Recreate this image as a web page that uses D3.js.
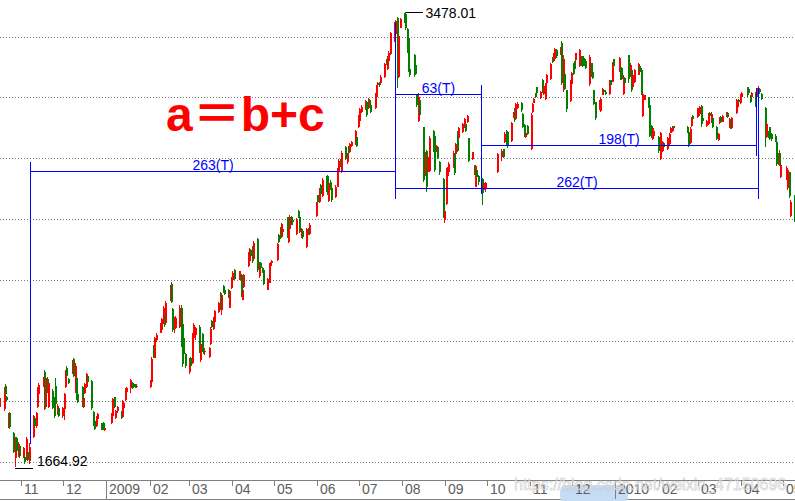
<!DOCTYPE html>
<html><head><meta charset="utf-8">
<script src="https://cdn.jsdelivr.net/npm/d3@7"></script>
<style>html,body{margin:0;padding:0;background:#fff;overflow:hidden}svg{display:block}</style>
</head><body><svg id="c" width="795" height="501"></svg>
<script>
// ---- daily K-line data: [day, open, high, low, close] ----
const k2008_10=[[16,1960,1975,1925,1935],[17,1905,1950,1895,1940],[20,1895,1985,1890,1960],[21,1990,1995,1950,1955],[22,1945,1948,1930,1933],[23,1828,1882,1822,1875],[24,1880,1886,1818,1825],[27,1800,1805,1720,1724],[28,1700,1785,1664.92,1772],[29,1782,1786,1722,1730],[30,1712,1765,1705,1758],[31,1750,1755,1700,1710]];
const k2008_11=[[3,1708,1745,1702,1740],[4,1705,1708,1680,1685],[5,1700,1785,1695,1778],[6,1725,1728,1690,1695],[7,1690,1760,1680,1745],[10,1785,1875,1780,1868],[11,1860,1870,1822,1830],[12,1828,1885,1820,1880],[13,1905,1985,1900,1978],[14,1955,2000,1950,1992],[17,1990,2025,1985,2020],[18,2045,2052,1893,1905],[19,1905,2030,1895,2020],[20,2015,2025,1960,1970],[21,1905,2011,1900,2000],[24,1970,1975,1895,1900],[25,1935,1945,1860,1870],[26,1990,2020,1905,1915],[27,1880,1915,1875,1910],[28,1900,1905,1865,1871]];
const k2008_12=[[1,1868,1906,1862,1902],[2,1895,1962,1852,1955],[3,1985,2052,1980,2045],[4,2060,2070,2020,2030],[5,2015,2022,1995,2000],[8,2040,2092,2035,2085],[9,2095,2100,2025,2030],[10,1965,2080,1962,2070],[11,2022,2025,1932,1940],[12,1955,1960,1920,1925],[15,1985,1990,1905,1912],[16,1905,1945,1900,1940],[17,1962,2000,1958,1995],[18,1985,2040,1982,2035],[19,2030,2035,2000,2006],[22,2010,2012,1892,1900],[23,1885,1888,1830,1840],[24,1850,1858,1812,1818],[25,1830,1870,1825,1866],[26,1858,1880,1850,1877],[29,1840,1842,1812,1815],[30,1842,1845,1812,1820],[31,1812,1830,1808,1822]];
const k2009_01=[[5,1840,1882,1838,1878],[6,1868,1942,1864,1938],[7,1944,1946,1900,1905],[8,1862,1892,1858,1888],[9,1890,1908,1880,1904],[12,1884,1888,1858,1862],[13,1865,1932,1862,1928],[14,1900,1926,1898,1922],[15,1932,1982,1930,1978],[16,1965,1986,1962,1982],[19,1980,2018,1962,2012],[20,2000,2003,1976,1980],[21,1998,2000,1980,1985],[22,1996,1998,1982,1987],[23,1985,1995,1980,1990]];
const k2009_02=[[2,1985,2012,1982,2008],[3,2005,2103,2002,2095],[4,2140,2150,2100,2105],[5,2100,2185,2098,2180],[6,2170,2198,2165,2192],[9,2205,2240,2199,2235],[10,2210,2260,2200,2255],[11,2240,2305,2235,2300],[12,2275,2280,2225,2230],[13,2240,2325,2235,2320],[16,2330,2390,2325,2385],[17,2395,2402,2318,2322],[18,2295,2298,2205,2210],[19,2215,2262,2200,2255],[20,2220,2266,2215,2260],[23,2222,2310,2218,2300],[24,2300,2310,2145,2150],[25,2235,2240,2063,2075],[26,2180,2195,2110,2115],[27,2115,2120,2062,2068]];
const k2009_03=[[2,2045,2100,2038,2095],[3,2098,2102,2062,2070],[4,2080,2200,2076,2190],[5,2180,2240,2172,2232],[6,2190,2225,2172,2218],[9,2225,2232,2120,2130],[10,2090,2160,2083,2155],[11,2195,2200,2125,2135],[12,2140,2145,2115,2120],[13,2122,2140,2110,2128],[16,2105,2145,2100,2140],[17,2155,2222,2150,2215],[18,2248,2252,2220,2225],[19,2215,2262,2210,2255],[20,2245,2290,2242,2285],[23,2282,2322,2278,2318],[24,2355,2362,2292,2298],[25,2290,2360,2272,2352],[26,2385,2390,2360,2362],[27,2370,2380,2350,2355],[30,2370,2375,2340,2345],[31,2300,2372,2298,2365]];
const k2009_04=[[1,2380,2422,2375,2418],[2,2410,2446,2405,2440],[3,2452,2455,2412,2415],[7,2412,2448,2410,2445],[8,2432,2435,2342,2350],[9,2332,2378,2330,2372],[10,2382,2435,2378,2430],[13,2465,2522,2462,2515],[14,2485,2538,2482,2532],[15,2530,2535,2500,2505],[16,2540,2545,2478,2485],[17,2495,2565,2490,2558],[20,2575,2579,2442,2450],[21,2425,2480,2420,2472],[22,2478,2480,2455,2458],[23,2460,2462,2440,2445],[24,2450,2452,2390,2395],[27,2372,2418,2370,2415],[28,2400,2478,2398,2470],[29,2465,2480,2455,2475],[30,2478,2490,2470,2485]];
const k2009_05=[[4,2490,2557,2486,2552],[5,2588,2592,2557,2562],[6,2620,2622,2575,2580],[7,2580,2638,2576,2632],[8,2600,2625,2590,2615],[11,2660,2662,2578,2585],[12,2560,2618,2557,2612],[13,2612,2668,2609,2662],[14,2660,2663,2630,2635],[15,2650,2655,2630,2640],[18,2592,2656,2589,2650],[19,2685,2688,2657,2660],[20,2660,2662,2597,2603],[21,2580,2617,2577,2612],[22,2605,2610,2575,2580],[25,2540,2617,2537,2612],[26,2615,2618,2590,2592],[27,2592,2636,2589,2630]];
const k2009_06=[[1,2665,2722,2660,2715],[2,2747,2750,2718,2722],[3,2722,2778,2718,2772],[4,2789,2792,2749,2752],[5,2745,2815,2740,2810],[8,2822,2825,2760,2765],[9,2825,2830,2750,2755],[10,2725,2800,2720,2795],[11,2800,2808,2770,2775],[12,2775,2778,2722,2728],[15,2740,2790,2735,2782],[16,2782,2856,2780,2850],[17,2842,2890,2838,2885],[18,2885,2892,2860,2870],[19,2842,2922,2838,2915],[22,2938,2942,2888,2892],[23,2880,2915,2872,2910],[24,2940,2945,2908,2915],[25,2918,2956,2915,2950],[26,2945,2965,2940,2960],[29,2952,3008,2948,3002],[30,2978,2981,2940,2945]];
const k2009_07=[[1,3020,3068,3015,3062],[2,3042,3095,3039,3090],[3,3080,3105,3075,3100],[6,3090,3128,3087,3122],[7,3118,3120,3059,3065],[8,3095,3133,3090,3128],[9,3125,3130,3098,3100],[10,3107,3110,3075,3080],[13,3095,3155,3090,3150],[14,3138,3187,3135,3182],[15,3185,3200,3175,3195],[16,3198,3200,3180,3185],[17,3195,3225,3190,3220],[20,3220,3275,3215,3270],[21,3285,3290,3265,3268],[22,3250,3300,3247,3295],[23,3282,3320,3279,3315],[24,3310,3399,3307,3395],[27,3362,3436,3359,3435],[28,3390,3446,3386,3440],[29,3452,3455,3175,3265],[30,3220,3406,3215,3380],[31,3415,3454,3412,3450]];
const k2009_08=[[3,3465,3472,3435,3440],[4,3470,3478.01,3406,3412],[5,3410,3415,3315,3320],[6,3375,3378,3240,3250],[7,3250,3260,3220,3225],[10,3305,3308,3219,3225],[11,3265,3268,3228,3232],[12,3145,3148,3099,3105],[13,3045,3155,3040,3140],[14,3125,3128,3059,3065],[17,3018,3020,2800,2810],[18,2830,2920,2825,2912],[19,2925,2928,2761,2780],[20,2840,2908,2836,2900],[21,2845,2982,2840,2975],[24,3002,3006,2920,2925],[25,2985,2990,2840,2850],[26,2925,2948,2918,2942],[27,2940,2945,2890,2895],[28,2880,2885,2830,2840],[31,2812,2816,2657,2667]];
const k2009_09=[[1,2650,2721,2639,2683],[2,2712,2856,2709,2845],[3,2825,2860,2816,2855],[4,2842,2880,2838,2872],[7,2858,2922,2855,2915],[8,2912,2916,2828,2835],[9,2910,2956,2905,2950],[10,2998,3002,2920,2925],[11,2976,3020,2972,3015],[14,2998,3036,2996,3032],[15,3018,3056,3016,3052],[16,3030,3034,3000,3005],[17,3038,3068,3036,3063],[18,2975,2976,2880,2885],[21,2890,2920,2888,2918],[22,2866,2868,2828,2832],[23,2782,2868,2780,2865],[24,2850,2855,2810,2820],[25,2825,2830,2790,2800],[28,2812,2816,2709,2756],[29,2770,2797,2765,2795],[30,2775,2800,2760,2798]];
const k2009_10=[[9,2840,2916,2836,2911],[12,2900,2932,2884,2925],[13,2930,2932,2895,2900],[14,2960,2998,2955,2992],[15,3004,3006,2948,2955],[16,2998,3000,2936,2942],[19,2962,3040,2958,3035],[20,3058,3080,3055,3076],[21,3088,3096,3040,3048],[22,3052,3116,3050,3110],[23,3095,3118,3090,3112],[26,3116,3118,3080,3085],[27,3072,3076,3016,3020],[28,3028,3030,2980,2985],[29,2978,2998,2976,2994],[30,3024,3028,2988,2992]];
const k2009_11=[[2,2930,3076,2928,3065],[3,3080,3116,3076,3110],[4,3116,3136,3114,3132],[5,3154,3156,3136,3138],[6,3178,3180,3152,3155],[9,3135,3162,3130,3158],[10,3208,3210,3155,3160],[11,3150,3187,3147,3184],[12,3130,3195,3127,3190],[13,3195,3230,3190,3225],[16,3210,3275,3207,3270],[17,3298,3299,3275,3278],[18,3282,3315,3279,3312],[19,3290,3333,3287,3328],[20,3325,3330,3295,3300],[23,3310,3338,3305,3335],[24,3355,3361,3187,3195],[25,3165,3307,3159,3290],[26,3232,3235,3167,3172],[27,3165,3167,3079,3090],[30,3122,3207,3119,3200]];
const k2009_12=[[1,3190,3239,3187,3235],[2,3274,3275,3227,3232],[3,3280,3282,3245,3250],[4,3285,3315,3283,3312],[7,3262,3331,3259,3325],[8,3300,3302,3262,3270],[9,3300,3303,3259,3262],[10,3290,3292,3262,3265],[11,3282,3285,3250,3255],[14,3190,3307,3182,3298],[15,3272,3275,3219,3225],[16,3240,3245,3210,3215],[17,3165,3167,3107,3112],[18,3118,3119,3048,3055],[21,3088,3127,3085,3120],[22,3082,3139,3079,3132],[23,3147,3175,3145,3170],[24,3165,3168,3155,3158],[25,3160,3165,3148,3152],[28,3150,3207,3147,3202],[29,3205,3207,3182,3186],[30,3200,3279,3199,3272],[31,3288,3291,3255,3260]];
const k2010_01=[[4,3240,3299,3239,3292],[5,3258,3259,3207,3212],[6,3255,3258,3205,3210],[7,3150,3227,3147,3220],[8,3215,3220,3180,3195],[11,3305,3307,3195,3210],[12,3220,3275,3219,3265],[13,3245,3247,3159,3165],[14,3180,3235,3179,3228],[15,3200,3250,3195,3245],[18,3228,3275,3227,3270],[19,3262,3265,3230,3238],[20,3247,3255,3147,3155],[21,3062,3155,3059,3150],[22,3128,3148,3125,3145],[25,3139,3140,3095,3100],[26,3105,3107,2980,2985],[27,3025,3028,2976,2980],[28,2970,3020,2968,3015],[29,2985,3010,2980,3005]];
const k2010_02=[[1,2980,2982,2916,2922],[2,2960,2965,2925,2930],[3,2890,3000,2888,2995],[4,2922,2962,2918,2958],[5,2955,2958,2935,2938],[8,2930,2980,2928,2975],[9,2950,2996,2948,2990],[10,2996,3020,2994,3016],[11,3005,3022,3000,3018],[12,3022,3025,3010,3015],[22,3020,3022,2996,3000],[23,2998,3000,2940,2945],[24,2955,3020,2952,3012],[25,3022,3060,3020,3055],[26,3062,3065,3045,3050]];
const k2010_03=[[1,3058,3095,3055,3088],[2,3062,3095,3058,3090],[3,3070,3102,3065,3098],[4,3103,3105,3020,3030],[5,3055,3058,3040,3043],[8,3022,3048,3020,3045],[9,3030,3076,3028,3070],[10,3076,3078,3060,3063],[11,3040,3078,3035,3072],[12,3055,3057,3016,3020],[15,3020,3022,2968,2972],[16,2966,2996,2964,2990],[17,3036,3060,3032,3056],[18,3060,3062,3035,3040],[19,3040,3065,3038,3062],[22,3060,3078,3058,3075],[23,3076,3078,3055,3060],[24,3018,3055,3014,3050],[25,3048,3050,3012,3015],[26,3015,3060,3010,3055],[29,3075,3131,3070,3125],[30,3098,3125,3095,3120],[31,3128,3131,3115,3118]];
const k2010_04=[[1,3115,3150,3112,3145],[2,3140,3158,3138,3155],[6,3179,3180,3140,3145],[7,3170,3172,3150,3155],[8,3145,3148,3115,3120],[9,3140,3160,3138,3155],[12,3155,3158,3099,3105],[13,3142,3175,3139,3170],[14,3160,3181,3155,3175],[15,3172,3176,3150,3160],[16,3150,3155,3125,3130],[19,3095,3097,2940,2990],[20,2980,3036,2975,3030],[21,3000,3002,2976,2980],[22,3018,3020,2968,2972],[23,2990,2995,2965,2970],[26,2985,2990,2958,2962],[27,2960,2962,2865,2870],[28,2870,2916,2866,2905],[29,2915,2928,2865,2870],[30,2822,2876,2818,2868]];
const k2010_05=[[4,2812,2862,2808,2855],[5,2775,2856,2768,2848],[6,2840,2842,2737,2745],[7,2665,2729,2660,2722],[10,2745,2749,2641,2650]];

const monthTable=[[2008,10,k2008_10],[2008,11,k2008_11],[2008,12,k2008_12],[2009,1,k2009_01],[2009,2,k2009_02],[2009,3,k2009_03],[2009,4,k2009_04],[2009,5,k2009_05],[2009,6,k2009_06],[2009,7,k2009_07],[2009,8,k2009_08],[2009,9,k2009_09],[2009,10,k2009_10],[2009,11,k2009_11],[2009,12,k2009_12],[2010,1,k2010_01],[2010,2,k2010_02],[2010,3,k2010_03],[2010,4,k2010_04],[2010,5,k2010_05]];

// axis tick labels (one per month start, Nov 2008 .. May 2010)
const tickLabels=["11","12","2009","02","03","04","05","06","07","08","09","10","11","12","2010","02","03","04","05"];
// horizontal dotted grid levels (price)
const gridPrices=[1685,1927,2169,2410,2652,2894,3137,3376];
// period (day count) annotations
const periodLabels=["263(T)","63(T)","198(T)","262(T)"];
const periodStart=["2008-11-07","2009-07-27","2009-09-27","2009-07-27"];
const periodStartPrice=[1762,3437,2756,3437];
const periodEnd=["2009-07-27","2009-09-27","2010-04-12","2010-04-13"];
const periodEndPrice=[3437,2756,3178,3178];
const periodLevel=[2844,3149,2946,2775];
// extreme labels
const extremeDates=["2009-08-04","2008-10-28"];
const extremeValues=[3478.01,1664.92];
const formulaText="a＝b+c";
const watermark="https://blog.csdn.net/weixin_47150696";

// ---- build ----
const W=795,H=501;
const svg=d3.select("#c");
const parse=s=>{const p=s.split("-").map(Number);return new Date(Date.UTC(p[0],p[1]-1,p[2]));};
const bars=[];
monthTable.forEach(([yr,mo,rows])=>rows.forEach(r=>bars.push({date:new Date(Date.UTC(yr,mo-1,r[0])),o:r[1],h:r[2],l:r[3],c:r[4]})));

const x=d3.scaleUtc().domain([new Date(Date.UTC(2008,10,1)),new Date(Date.UTC(2010,4,1))]).range([21.3,782.7]);
const y=d3.scaleLinear().domain([1664.92,3478.01]).range([467.3,11.7]);

// grid
svg.append("g").selectAll("line").data(gridPrices).join("line")
  .attr("x1",0).attr("x2",W)
  .attr("y1",d=>Math.round(y(d))+0.5).attr("y2",d=>Math.round(y(d))+0.5)
  .attr("stroke","#7a7a7a").attr("stroke-width",1).attr("stroke-dasharray","1,2");

// candles
const col=d=>d.c>=d.o?"#ff0000":"#008000";
const cg=svg.append("g").attr("shape-rendering","crispEdges");
cg.selectAll("rect.wick").data(bars).join("rect").attr("class","wick")
  .attr("x",d=>Math.round(x(d.date))-1).attr("width",1)
  .attr("y",d=>y(d.h)).attr("height",d=>Math.max(1,y(d.l)-y(d.h)))
  .attr("fill",col);
cg.selectAll("rect.body").data(bars).join("rect").attr("class","body")
  .attr("x",d=>Math.round(x(d.date))-1).attr("width",2)
  .attr("y",d=>y(Math.max(d.o,d.c))).attr("height",d=>Math.max(1,Math.abs(y(d.o)-y(d.c))))
  .attr("fill",col);

// period annotations
const pg=svg.append("g").attr("shape-rendering","crispEdges");
const px=d=>Math.round(x(parse(d)))+0.5;
const py=v=>Math.round(y(v))+0.5;
periodLabels.forEach((lab,i)=>{
  const x1=px(periodStart[i]),x2=px(periodEnd[i]),yl=py(periodLevel[i]);
  const ys=py(periodStartPrice[i]),ye=py(periodEndPrice[i]);
  pg.append("line").attr("x1",x1).attr("x2",x2).attr("y1",yl).attr("y2",yl).attr("stroke","#0000ff");
  pg.append("line").attr("x1",x1).attr("x2",x1).attr("y1",ys).attr("y2",yl+(yl>ys?10:-10)).attr("stroke","#0000ff");
  pg.append("line").attr("x1",x2).attr("x2",x2).attr("y1",ye).attr("y2",yl+(yl>ye?10:-10)).attr("stroke","#0000ff");
  svg.append("text").attr("x",(x1+x2)/2).attr("y",yl-2).attr("text-anchor","middle")
    .attr("font-family","Liberation Sans, Arial, sans-serif").attr("font-size",14)
    .attr("fill","#0000ff").text(lab);
});

// extreme labels
{
  const hx=x(parse(extremeDates[0])),hy=Math.round(y(extremeValues[0]))+0.5;
  svg.append("line").attr("x1",Math.round(hx)).attr("x2",Math.round(hx)+17).attr("y1",hy).attr("y2",hy).attr("stroke","#000").attr("shape-rendering","crispEdges");
  svg.append("text").attr("x",Math.round(hx)+19.5).attr("y",hy+5.3)
    .attr("font-family","Liberation Sans, Arial, sans-serif").attr("font-size",14).attr("fill","#000").text(extremeValues[0].toFixed(2));
  const lx=x(parse(extremeDates[1])),ly=Math.round(y(extremeValues[1]))+1.5;
  svg.append("line").attr("x1",Math.round(lx)-1).attr("x2",Math.round(lx)+17).attr("y1",ly).attr("y2",ly).attr("stroke","#000").attr("shape-rendering","crispEdges");
  svg.append("text").attr("x",Math.round(lx)+21).attr("y",ly-3)
    .attr("font-family","Liberation Sans, Arial, sans-serif").attr("font-size",14).attr("fill","#000").text(extremeValues[1].toFixed(2));
}

// formula
svg.append("text").attr("x",166).attr("y",131)
  .attr("font-family","Liberation Sans, Arial, 'Noto Sans CJK SC', sans-serif")
  .attr("font-size",48).attr("font-weight","bold").attr("fill","#ff0000").text(formulaText);

// x axis band
const axTop=480.5,axBot=499.5;
const ag=svg.append("g").attr("shape-rendering","crispEdges");
ag.append("line").attr("x1",0).attr("x2",W).attr("y1",axTop).attr("y2",axTop).attr("stroke","#808080");
ag.append("line").attr("x1",0).attr("x2",W).attr("y1",axBot).attr("y2",axBot).attr("stroke","#808080");
svg.append("rect").attr("x",560).attr("y",485).attr("width",68).attr("height",18).attr("rx",6).attr("fill","#c6dcf5");
const tickDates=d3.utcMonth.range(new Date(Date.UTC(2008,10,1)),new Date(Date.UTC(2010,5,1)));
const axis=d3.axisBottom(x).tickValues(tickDates).tickFormat((d,i)=>tickLabels[i]).tickSize(6).tickSizeOuter(0);
const axG=svg.append("g").attr("transform",`translate(0,${axTop-0.5})`).call(axis);
axG.select(".domain").remove();
axG.selectAll(".tick").attr("transform",d=>`translate(${Math.round(x(d))+0.5},0)`);
axG.selectAll(".tick line").attr("stroke","#808080").attr("shape-rendering","crispEdges")
  .attr("y1",0).attr("y2",(d,i)=>/^\d{4}$/.test(tickLabels[i])?19:6);
axG.selectAll(".tick text").attr("text-anchor","start").attr("x",2.5).attr("y",14).attr("dy",0)
  .attr("font-family","Liberation Sans, Arial, sans-serif").attr("font-size",14).attr("fill","#5c5c5c");

// watermark
svg.append("text").attr("x",514).attr("y",490).attr("font-family","Liberation Sans, Arial, sans-serif")
  .attr("font-size",16).attr("fill","#ffffff").attr("fill-opacity",0.75)
  .attr("stroke","#9a9a9a").attr("stroke-opacity",0.35).attr("stroke-width",1).text(watermark);
</script></body></html>
